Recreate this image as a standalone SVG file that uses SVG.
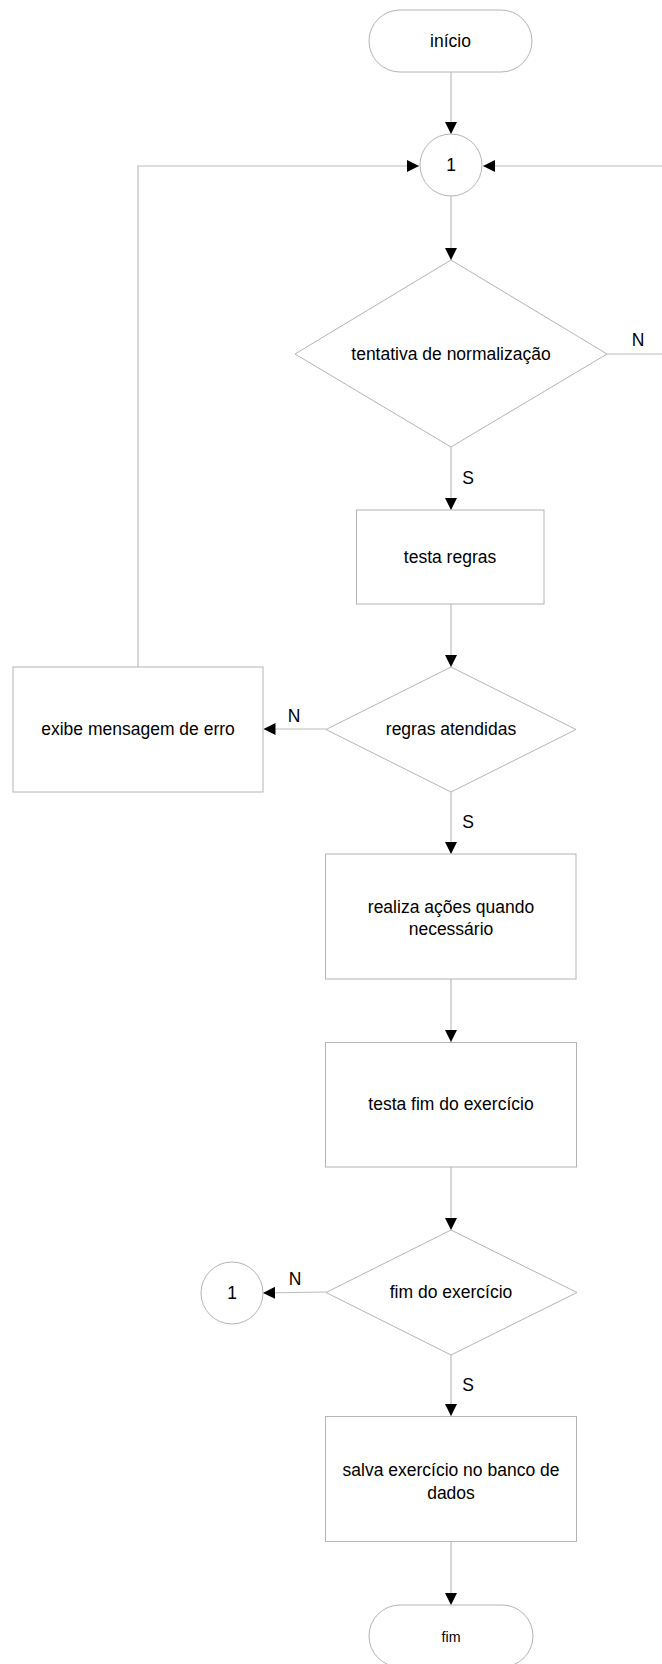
<svg xmlns="http://www.w3.org/2000/svg" width="662" height="1664" viewBox="0 0 662 1664">
  <style>
    .shape { fill: #ffffff; stroke: #b4b4b4; stroke-width: 1; }
    .link { fill: none; stroke: #bcbcbc; stroke-width: 1.2; }
    .label { font-family: "Liberation Sans", Arial, sans-serif; font-size: 17.5px; fill: #000000; text-anchor: middle; dominant-baseline: central; }
    .tag { font-family: "Liberation Sans", Arial, sans-serif; font-size: 17.5px; fill: #000000; text-anchor: middle; dominant-baseline: central; }
  </style>
  <defs>
    <marker id="arrow" viewBox="0 0 12 12" refX="12" refY="6" markerWidth="12" markerHeight="12" markerUnits="userSpaceOnUse" orient="auto">
      <path d="M0,0 L12,6 L0,12 Z" fill="#000000"/>
    </marker>
  </defs>
  <rect width="662" height="1664" fill="#ffffff"/>

  <!-- connectors -->
  <g id="connectors">
    <path class="link" d="M451,72 V134" marker-end="url(#arrow)"/>
    <path class="link" d="M451,196 V260" marker-end="url(#arrow)"/>
    <path class="link" d="M607,354 H670 V166 H483" marker-end="url(#arrow)"/>
    <path class="link" d="M451,447 V510" marker-end="url(#arrow)"/>
    <path class="link" d="M451,604 V667" marker-end="url(#arrow)"/>
    <path class="link" d="M326,729 H263.5" marker-end="url(#arrow)"/>
    <path class="link" d="M138,667 V166 H419" marker-end="url(#arrow)"/>
    <path class="link" d="M451,792 V854" marker-end="url(#arrow)"/>
    <path class="link" d="M451,979 V1042" marker-end="url(#arrow)"/>
    <path class="link" d="M451,1167 V1230" marker-end="url(#arrow)"/>
    <path class="link" d="M326,1292 L263,1293" marker-end="url(#arrow)"/>
    <path class="link" d="M451,1355 V1416" marker-end="url(#arrow)"/>
    <path class="link" d="M451,1542 V1605" marker-end="url(#arrow)"/>
    <text class="tag" x="638" y="340">N</text>
    <text class="tag" x="468" y="478">S</text>
    <text class="tag" x="294" y="716">N</text>
    <text class="tag" x="468" y="822">S</text>
    <text class="tag" x="295" y="1279">N</text>
    <text class="tag" x="468" y="1385">S</text>
  </g>

  <g id="inicio">
    <rect class="shape" x="369" y="10" width="163" height="62" rx="31" ry="31"/>
    <text class="label" x="450.5" y="41">início</text>
  </g>

  <g id="conector-1">
    <circle class="shape" cx="451" cy="165" r="31"/>
    <text class="label" x="451" y="165">1</text>
  </g>

  <g id="tentativa-normalizacao">
    <polygon class="shape" points="451,260 607,354 451,447 295,354"/>
    <text class="label" x="451" y="354">tentativa de normalização</text>
  </g>

  <g id="testa-regras">
    <rect class="shape" x="356.5" y="510" width="187.5" height="94"/>
    <text class="label" x="450" y="557">testa regras</text>
  </g>

  <g id="regras-atendidas">
    <polygon class="shape" points="451,667 576,729.5 451,792 326,729.5"/>
    <text class="label" x="451" y="729">regras atendidas</text>
  </g>

  <g id="exibe-erro">
    <rect class="shape" x="13" y="667" width="250" height="125"/>
    <text class="label" x="138" y="729">exibe mensagem de erro</text>
  </g>

  <g id="realiza-acoes">
    <rect class="shape" x="325.5" y="854" width="250.5" height="125"/>
    <text class="label" x="451" y="907">realiza ações quando</text>
    <text class="label" x="451" y="929">necessário</text>
  </g>

  <g id="testa-fim">
    <rect class="shape" x="325.5" y="1042.5" width="251" height="124.5"/>
    <text class="label" x="451" y="1104">testa fim do exercício</text>
  </g>

  <g id="fim-exercicio">
    <polygon class="shape" points="451,1230 577,1292.5 451,1355 326,1292.5"/>
    <text class="label" x="451" y="1292">fim do exercício</text>
  </g>

  <g id="conector-1b">
    <circle class="shape" cx="232" cy="1293" r="31"/>
    <text class="label" x="232" y="1293">1</text>
  </g>

  <g id="salva-exercicio">
    <rect class="shape" x="325.5" y="1416.5" width="251" height="125"/>
    <text class="label" x="451" y="1470">salva exercício no banco de</text>
    <text class="label" x="451" y="1493">dados</text>
  </g>

  <g id="fim">
    <rect class="shape" x="369" y="1605" width="164" height="62" rx="31" ry="31"/>
    <text class="label" x="451" y="1636" textLength="19" lengthAdjust="spacingAndGlyphs" style="font-size:15px">fim</text>
  </g>
</svg>
